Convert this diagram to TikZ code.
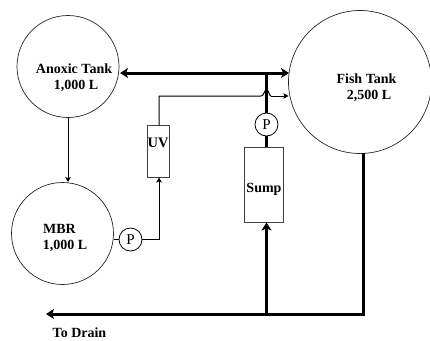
\documentclass[tikz,border=0pt]{standalone}
\usepackage{fontspec}
\usetikzlibrary{arrows.meta}
\setmainfont{Liberation Serif}
\begin{document}
\begin{tikzpicture}[x=1pt,y=-1pt,
  tank/.style={circle,draw=black!85,line width=0.7pt,inner sep=0pt},
  pumpc/.style={circle,draw=black,line width=0.8pt,minimum size=23pt,inner sep=0pt,font=\fontsize{15}{15}\selectfont},
  unit/.style={rectangle,draw=black!75,line width=0.9pt,inner sep=0pt},
  lbl/.style={font=\fontsize{14}{17}\selectfont\bfseries,align=center,inner sep=0pt},
  thickp/.style={line width=3pt,-{Stealth[length=8pt,width=10pt,inset=2pt]}},
  thickn/.style={line width=3pt},
  vertp/.style={line width=3.6pt,-{Stealth[length=8pt,width=10pt,inset=2pt]}},
  vertn/.style={line width=3.6pt},
  thinp/.style={line width=1pt,-{Stealth[length=5pt,width=5.5pt,inset=1pt]}},
  thinn/.style={line width=1pt}]
\useasboundingbox (0,0) rectangle (430,340);
\node[tank,minimum size=102pt] (anoxic) at (68,66.5) {};
\node[tank,minimum size=102pt] (mbr) at (62.5,233.5) {};
\node[tank,minimum size=143pt] (fish) at (360,82) {};
\node[pumpc] (p1) at (130.5,239.5) {P};
\node[pumpc] (p2) at (266.5,124.5) {P};
\node[unit,minimum width=22pt,minimum height=52pt] (uv) at (158,151) {};
\node[unit,minimum width=39pt,minimum height=75pt] (sump) at (263.5,184.5) {};
\node[lbl] (tanox1) at (74,69) {Anoxic Tank};
\node[lbl] (tanox2) at (76,86) {1,000 L};
\node[lbl] (tmbr1) at (59.5,229) {MBR};
\node[lbl] (tmbr2) at (65,246) {1,000 L};
\node[lbl] (tfish1) at (366.5,79) {Fish Tank};
\node[lbl] (tfish2) at (369,95.5) {2,500 L};
\node[lbl,font=\fontsize{14.5}{14}\selectfont\bfseries] (tuv) at (158,143) {UV};
\node[lbl] (tsump) at (264,189) {Sump};
\node[lbl] (tdrain) at (79.5,333) {To Drain};
\coordinate (ja) at (266.5,73);
\coordinate (jd) at (266.5,314);
\coordinate (drainend) at (46,314);
\coordinate (fishb) at (363,153);
\coordinate (fishc) at (363,315.5);
\coordinate (uvb) at (159,96);
\coordinate (uvt) at (159,125);
\coordinate (h1) at (261,96);
\coordinate (h2) at (271,96);
\coordinate (pc) at (159,239.5);
\coordinate (anoxtip) at (120,73);
\coordinate (fishtip) at (289,73);
\coordinate (fishtip2) at (288.5,96);
\draw[thickp] (ja) -- (anoxtip);
\draw[thickp] (ja) -- (fishtip);
\draw[vertn] (ja) -- (p2);
\draw[vertn] (p2) -- (sump.north -| p2);
\draw[thinn] (uvt) -- (uvb) -- (h1) .. controls (264,96) and (264,90) .. (266.5,90) .. controls (269,90) and (269,96) .. (h2);
\draw[thinp] (h2) -- (fishtip2);
\draw[thinp] (anoxic.south) -- (anoxic.south |- mbr.north);
\draw[thinn] (mbr.east |- p1) -- (p1);
\draw[thinp] (p1) -- (pc) -- (uv.south -| pc);
\draw[thickn] (fishb) -- (fishc);
\draw[thickp] (fishc) ++(0,-1.5) -- (drainend);
\draw[vertp] (jd) -- (sump.south -| jd);
\end{tikzpicture}
\end{document}
